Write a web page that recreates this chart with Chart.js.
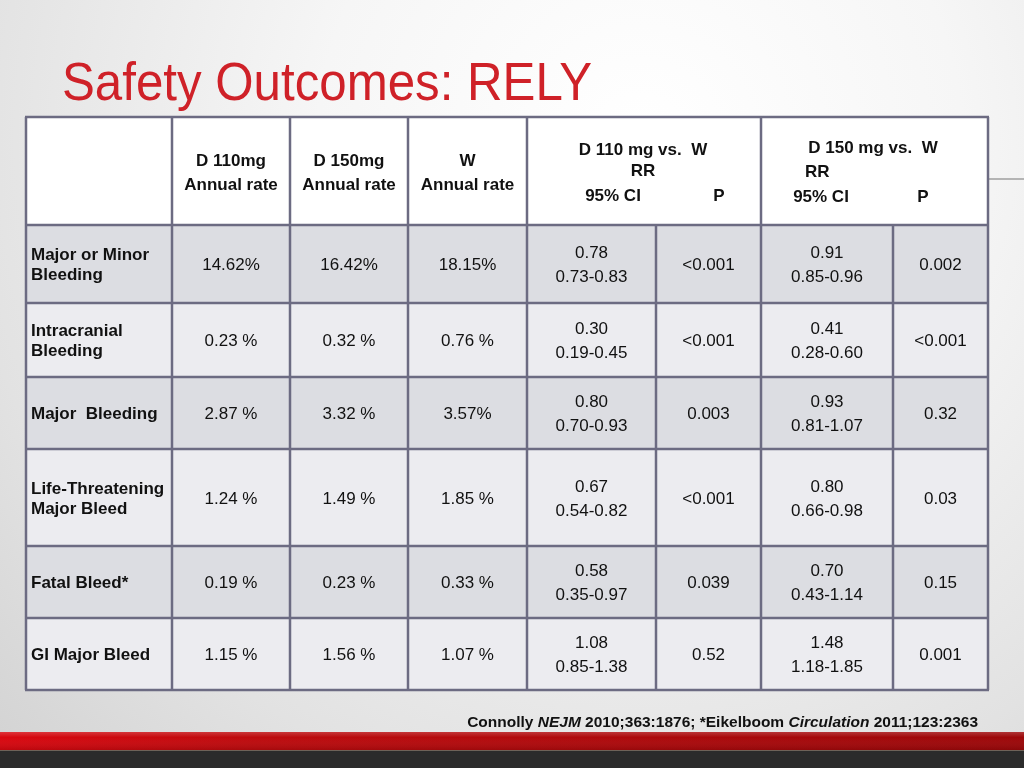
<!DOCTYPE html>
<html><head><meta charset="utf-8">
<script src="https://cdn.jsdelivr.net/npm/chart.js@4"></script>
<style>html,body{margin:0;padding:0;background:#fff;overflow:hidden}canvas{display:block}</style>
</head><body><canvas id="c" width="1024" height="768"></canvas>
<script>
// ---------- DATA ----------
const title = "Safety Outcomes: RELY";
const outcomes = ["Major or Minor\nBleeding", "Intracranial\nBleeding", "Major  Bleeding", "Life-Threatening\nMajor Bleed", "Fatal Bleed*", "GI Major Bleed"];
const rateD110 = ["14.62%", "0.23 %", "2.87 %", "1.24 %", "0.19 %", "1.15 %"];
const rateD150 = ["16.42%", "0.32 %", "3.32 %", "1.49 %", "0.23 %", "1.56 %"];
const rateW    = ["18.15%", "0.76 %", "3.57%", "1.85 %", "0.33 %", "1.07 %"];
const rrD110   = ["0.78", "0.30", "0.80", "0.67", "0.58", "1.08"];
const ciD110   = ["0.73-0.83", "0.19-0.45", "0.70-0.93", "0.54-0.82", "0.35-0.97", "0.85-1.38"];
const pD110    = ["<0.001", "<0.001", "0.003", "<0.001", "0.039", "0.52"];
const rrD150   = ["0.91", "0.41", "0.93", "0.80", "0.70", "1.48"];
const ciD150   = ["0.85-0.96", "0.28-0.60", "0.81-1.07", "0.66-0.98", "0.43-1.14", "1.18-1.85"];
const pD150    = ["0.002", "<0.001", "0.32", "0.03", "0.15", "0.001"];
const rateHeaders = [["D 110mg", "Annual rate"], ["D 150mg", "Annual rate"], ["W", "Annual rate"]];
const compareHeaders = ["D 110 mg vs.  W", "D 150 mg vs.  W"];
const rrLabel = "RR", ciLabel = "95% CI", pLabel = "P";
const footParts = ["Connolly ", "NEJM", " 2010;363:1876; *Eikelboom ", "Circulation", " 2011;123:2363"];
const footItalic = [false, true, false, true, false];

// ---------- LAYOUT (table units map 1:1 through the chart scales) ----------
const colEdges = [26, 172, 290, 408, 527, 656, 761, 893, 988];
const rowEdges = [117, 225, 303, 377, 449, 546, 618, 690];
const FONT = "'Liberation Sans', Arial, Helvetica, sans-serif";

function bgPlugin() {
  return {
    id: 'slide',
    beforeDraw(chart) {
      const ctx = chart.ctx, W = chart.width, H = chart.height;
      ctx.save();
      const g = ctx.createRadialGradient(640, 140, 10, 640, 140, 900);
      g.addColorStop(0, '#ffffff');
      g.addColorStop(0.35, '#f6f6f6');
      g.addColorStop(0.75, '#e2e2e2');
      g.addColorStop(1, '#d2d2d2');
      ctx.fillStyle = g;
      ctx.fillRect(0, 0, W, H);
      // decorative line at right
      ctx.strokeStyle = '#b4b4b4'; ctx.lineWidth = 2;
      ctx.beginPath(); ctx.moveTo(988, 179); ctx.lineTo(1024, 179); ctx.stroke();
      // red band
      const rg = ctx.createLinearGradient(0, 0, W, 0);
      rg.addColorStop(0, '#d8070f'); rg.addColorStop(0.25, '#bd0a0d'); rg.addColorStop(1, '#9c0709');
      ctx.fillStyle = rg; ctx.fillRect(0, 732, W, 18);
      const vg = ctx.createLinearGradient(0, 732, 0, 750);
      vg.addColorStop(0, 'rgba(255,255,255,0.18)'); vg.addColorStop(0.3, 'rgba(255,255,255,0)'); vg.addColorStop(1, 'rgba(0,0,0,0.12)');
      ctx.fillStyle = vg; ctx.fillRect(0, 732, W, 18);
      // dark band
      ctx.fillStyle = '#2b2b2b'; ctx.fillRect(0, 750, W, 18);
      ctx.fillStyle = '#6e6258'; ctx.fillRect(0, 750, W, 1);
      // title
      ctx.fillStyle = '#cf2128';
      ctx.font = "54px " + FONT;
      ctx.textBaseline = 'alphabetic'; ctx.textAlign = 'left';
      ctx.fillText(title, 62, 100, 530);
      // footnote
      ctx.fillStyle = '#111';
      const fs = "15.5px " + FONT;
      let tw = 0;
      const widths = footParts.map((t, i) => { ctx.font = (footItalic[i] ? 'italic bold ' : 'bold ') + fs; const w = ctx.measureText(t).width; tw += w; return w; });
      let x = 978 - tw;
      footParts.forEach((t, i) => { ctx.font = (footItalic[i] ? 'italic bold ' : 'bold ') + fs; ctx.fillText(t, x, 727); x += widths[i]; });
      ctx.restore();
    },
    afterDraw(chart) {
      const ctx = chart.ctx, xs = chart.scales.x, ys = chart.scales.y;
      const X = v => xs.getPixelForValue(v), Y = v => ys.getPixelForValue(v);
      ctx.save();
      // cell backgrounds
      for (let r = 0; r < rowEdges.length - 1; r++) {
        ctx.fillStyle = r === 0 ? '#ffffff' : (r % 2 === 1 ? '#dcdde2' : '#ececf0');
        ctx.fillRect(X(colEdges[0]), Y(rowEdges[r]), X(colEdges[8]) - X(colEdges[0]), Y(rowEdges[r + 1]) - Y(rowEdges[r]));
      }
      // grid lines
      ctx.strokeStyle = '#6c6b82'; ctx.lineWidth = 2.5;
      ctx.beginPath();
      rowEdges.forEach(v => { ctx.moveTo(X(colEdges[0]) - 1, Y(v)); ctx.lineTo(X(colEdges[8]) + 1, Y(v)); });
      colEdges.forEach((v, i) => {
        const top = (i === 5 || i === 7) ? rowEdges[1] : rowEdges[0];
        ctx.moveTo(X(v), Y(top)); ctx.lineTo(X(v), Y(rowEdges[7]));
      });
      ctx.stroke();
      // text helpers
      const txt = (s, x, y, bold, align) => {
        ctx.font = (bold ? 'bold ' : '') + '17px ' + FONT;
        ctx.textAlign = align || 'center'; ctx.textBaseline = 'alphabetic';
        ctx.fillStyle = '#111';
        ctx.fillText(s, X(x), Y(y));
      };
      const mid = (a, b) => (a + b) / 2;
      // header
      rateHeaders.forEach((h, i) => {
        const cx = mid(colEdges[i + 1], colEdges[i + 2]);
        txt(h[0], cx, 166, true); txt(h[1], cx, 190, true);
      });
      txt(compareHeaders[0], 643, 155, true);
      txt(rrLabel, 643, 176, true);
      txt(ciLabel, 613, 201, true);
      txt(pLabel, 719, 201, true);
      txt(compareHeaders[1], 873, 153, true);
      txt(rrLabel, 805, 177, true, 'left');
      txt(ciLabel, 821, 202, true);
      txt(pLabel, 923, 202, true);
      // body
      outcomes.forEach((lab, r) => {
        const cy = mid(rowEdges[r + 1], rowEdges[r + 2]);
        const lines = lab.split('\n');
        lines.forEach((ln, k) => txt(ln, 31, cy + 6 + (k - (lines.length - 1) / 2) * 20, true, 'left'));
        [rateD110, rateD150, rateW].forEach((arr, c) => txt(arr[r], mid(colEdges[c + 1], colEdges[c + 2]), cy + 6));
        txt(rrD110[r], mid(colEdges[4], colEdges[5]), cy - 6);
        txt(ciD110[r], mid(colEdges[4], colEdges[5]), cy + 18);
        txt(pD110[r], mid(colEdges[5], colEdges[6]), cy + 6);
        txt(rrD150[r], mid(colEdges[6], colEdges[7]), cy - 6);
        txt(ciD150[r], mid(colEdges[6], colEdges[7]), cy + 18);
        txt(pD150[r], mid(colEdges[7], colEdges[8]), cy + 6);
      });
      ctx.restore();
    }
  };
}

new Chart(document.getElementById('c'), {
  type: 'scatter',
  data: { datasets: [{ data: [], pointRadius: 0 }] },
  options: {
    responsive: false, maintainAspectRatio: false, animation: false, devicePixelRatio: 1,
    layout: { padding: { left: colEdges[0], right: 1024 - colEdges[8], top: rowEdges[0], bottom: 768 - rowEdges[7] } },
    plugins: { legend: { display: false }, tooltip: { enabled: false } },
    scales: {
      x: { type: 'linear', display: false, min: colEdges[0], max: colEdges[8] },
      y: { type: 'linear', display: false, reverse: true, min: rowEdges[0], max: rowEdges[7] }
    }
  },
  plugins: [bgPlugin()]
});
</script></body></html>
